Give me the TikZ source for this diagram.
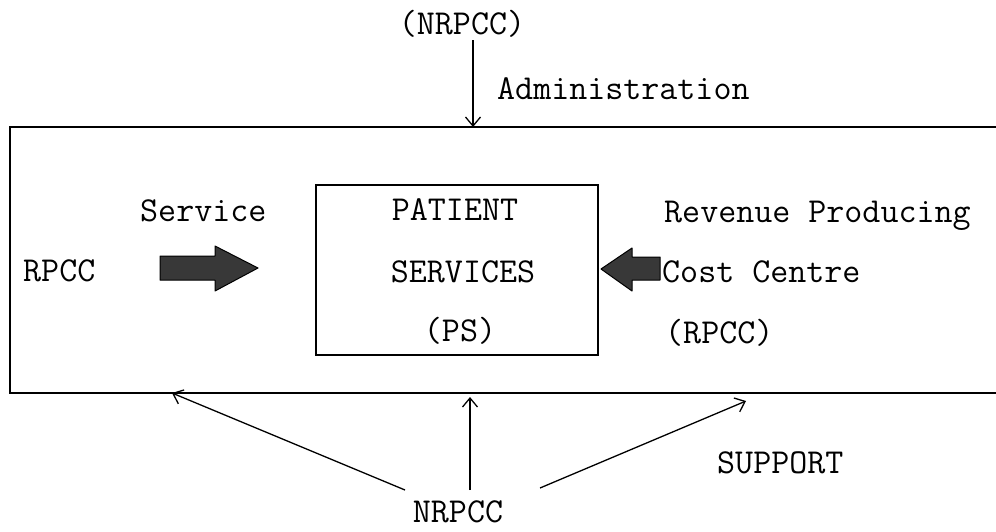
\documentclass[tikz,border=0pt]{standalone}
\usepackage{fontspec}
\usetikzlibrary{arrows.meta}
\begin{document}
\begin{tikzpicture}[x=1pt,y=-1pt,
  lbl/.style={font=\ttfamily\fontsize{35}{40}\selectfont, inner sep=0pt},
  ln/.style={line width=1.3pt},
  arr/.style={ln,-{Straight Barb[length=9pt,width=15pt,line width=1.3pt]}},
  fat/.style={draw=black,line width=1pt,fill=black!78,line join=round}]
\useasboundingbox (0,0) rectangle (996,531);
% outer frame (open to the right)
\draw[ln] (996,127) -- (10,127) -- (10,393) -- (996,393);
% inner box
\node[draw, ln, minimum width=282pt, minimum height=170pt, inner sep=0pt] (ps) at (457,270) {};
% texts
\node[lbl, anchor=base] (nrpcctop) at (462,34) {(NRPCC)};
\node[lbl, anchor=base west] (admin) at (497,99) {Administration};
\node[lbl, anchor=base west] (service) at (140,221) {Service};
\node[lbl, anchor=base] (patient) at (455,220) {PATIENT};
\node[lbl, anchor=base west] (revenue) at (664,222) {Revenue Producing};
\node[lbl, anchor=base west] (rpccl) at (23,281) {RPCC};
\node[lbl, anchor=base] (services) at (463,282) {SERVICES};
\node[lbl, anchor=base west] (cost) at (662,282) {Cost Centre};
\node[lbl, anchor=base] (psl) at (460,341) {(PS)};
\node[lbl, anchor=base west] (rpccr) at (665,343) {(RPCC)};
\node[lbl, anchor=base west] (support) at (717,473) {SUPPORT};
\node[lbl, anchor=base] (nrpccbot) at (458,522) {NRPCC};
% top arrow
\coordinate (ta) at (473,40);
\coordinate (tb) at (473,127);
\draw[arr] (ta) -- (tb);
% bottom arrows
\coordinate (l0) at (405,490); \coordinate (l1) at (172,393);
\coordinate (m0) at (470,490); \coordinate (m1) at (470,397);
\coordinate (r0) at (540,488); \coordinate (r1) at (746,401);
\draw[arr] (l0) -- (l1);
\draw[arr] (m0) -- (m1);
\draw[arr] (r0) -- (r1);
% fat arrows
\draw[fat] (160,256) -- (215,256) -- (215,246) -- (258,268) -- (215,291) -- (215,280) -- (160,280) -- cycle;
\draw[fat] (660,257) -- (632,257) -- (632,248) -- (601,269) -- (632,291) -- (632,280) -- (660,280) -- cycle;
\end{tikzpicture}
\end{document}
